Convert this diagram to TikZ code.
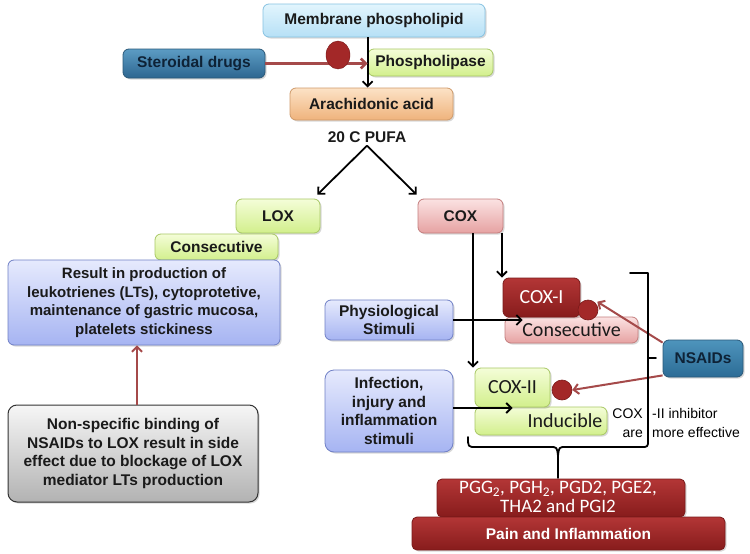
\documentclass[tikz,border=0pt]{standalone}
\usepackage{fontspec}
\setmainfont{Liberation Sans}
\newfontfamily\calfont{Carlito}
\usetikzlibrary{arrows.meta,shadows,calc,shapes.geometric}
\definecolor{memtop}{HTML}{E2F5FD}\definecolor{membot}{HTML}{B6E0F6}\definecolor{memdraw}{HTML}{86C2E2}
\definecolor{stertop}{HTML}{5C9CC4}\definecolor{sterbot}{HTML}{2D6690}\definecolor{sterdraw}{HTML}{2A5878}
\definecolor{grtop}{HTML}{F4FDD8}\definecolor{grbot}{HTML}{D2EF8C}\definecolor{grdraw}{HTML}{A8C864}
\definecolor{aratop}{HTML}{FCE2C6}\definecolor{arabot}{HTML}{EFB37C}\definecolor{aradraw}{HTML}{CF9A6A}
\definecolor{pktop}{HTML}{FBE2E2}\definecolor{pkbot}{HTML}{E6A2A2}\definecolor{pkdraw}{HTML}{C47E7E}
\definecolor{bltop}{HTML}{E6EAFD}\definecolor{blbot}{HTML}{A6B4F2}\definecolor{bldraw}{HTML}{7080C6}
\definecolor{gytop}{HTML}{F6F6F6}\definecolor{gybot}{HTML}{B2B2B2}\definecolor{gydraw}{HTML}{333333}
\definecolor{drtop}{HTML}{B33636}\definecolor{drbot}{HTML}{871C1C}\definecolor{drdraw}{HTML}{7A1A1A}
\definecolor{nstop}{HTML}{4E94BC}\definecolor{nsbot}{HTML}{2C6C96}
\definecolor{redarr}{HTML}{A54A4A}\definecolor{circf}{HTML}{A32828}
\definecolor{txt}{HTML}{1A1A1A}\definecolor{navy}{HTML}{0E2236}
\newcommand\lblfont{\fontsize{15.5}{18.5}\selectfont\bfseries}
\newcommand\calbig{\calfont\fontsize{20}{22}\selectfont}
\newcommand\calmid{\calfont\fontsize{19}{19}\selectfont}
\tikzset{
  box/.style={draw, rounded corners=6pt, line width=0.8pt, align=center, inner sep=2pt,
    text=txt, font=\lblfont,
    drop shadow={shadow xshift=1.5pt, shadow yshift=-1.5pt, opacity=0.3}},
  green/.style={top color=grtop, bottom color=grbot, draw=grdraw},
  pink/.style={top color=pktop, bottom color=pkbot, draw=pkdraw},
  blue/.style={top color=bltop, bottom color=blbot, draw=bldraw},
  darkred/.style={top color=drtop, bottom color=drbot, draw=drdraw, text=white},
  blk/.style={draw=black, line width=1.8pt, -{Straight Barb[length=5pt,width=10pt]}},
  rarr/.style={draw=redarr, line width=2pt, -{Straight Barb[length=5pt,width=10pt]}},
  dot/.style={circle, minimum size=20pt, inner sep=0pt, fill=circf, draw=drdraw, line width=0.6pt},
  brk/.style={draw=black, line width=1.8pt, line cap=round, line join=round}
}
\begin{document}
\begin{tikzpicture}[x=1pt,y=-1pt]
\useasboundingbox[fill=white] (0,0) rectangle (750,554);
% top chain
\node[box, top color=memtop, bottom color=membot, draw=memdraw, minimum width=222pt, minimum height=33pt] (mem) at (374,20.5) {Membrane phospholipid};
\node[box, top color=stertop, bottom color=sterbot, draw=sterdraw, text=navy, minimum width=142pt, minimum height=29pt] (ster) at (194,63.5) {Steroidal drugs};
\node[box, green, minimum width=125pt, minimum height=27pt] (phos) at (430.5,62.5) {Phospholipase};
\node[box, top color=aratop, bottom color=arabot, draw=aradraw, minimum width=163pt, minimum height=32pt] (ara) at (371.5,104) {Arachidonic acid};
\node[font=\lblfont, text=txt, inner sep=3pt] (pufa) at (367,137) {20 C PUFA};
\draw[blk] (mem.south -| phos.west) -- (ara.north -| phos.west);
\draw[rarr, line width=2.6pt] (ster.east) -- (ster.east -| phos.west);
\node[ellipse, minimum width=24pt, minimum height=28pt, inner sep=0pt, fill=circf, draw=drdraw] (sdot) at (338,55) {};
% LOX branch
\node[box, green, minimum width=84pt, minimum height=34pt] (lox) at (278,216) {LOX};
\node[box, green, minimum width=123pt, minimum height=26pt] (cons) at (216.5,247) {Consecutive};
\node[box, blue, font=\fontsize{15}{18.5}\selectfont\bfseries, minimum width=272pt, minimum height=85pt] (res) at (144,302.5) {Result in production of\\leukotrienes (LTs), cytoprotetive,\\maintenance of gastric mucosa,\\platelets stickiness};
\node[box, top color=gytop, bottom color=gybot, draw=gydraw, line width=1pt, rounded corners=9pt, minimum width=250pt, minimum height=97pt] (nons) at (133,453.5) {Non-specific binding of\\NSAIDs to LOX result in side\\effect due to blockage of LOX\\mediator LTs production};
\draw[rarr] ([xshift=4pt]nons.north) -- ([xshift=4pt]nons.north |- res.south);
% COX branch
\node[box, pink, minimum width=85pt, minimum height=34pt] (cox) at (460.5,216) {COX};
\draw[blk] (pufa.south) -- ($(lox.north east)+(-3,-4)$);
\draw[blk] (pufa.south) -- ($(cox.north west)+(-1,-4)$);
\node[box, blue, minimum width=128pt, minimum height=40pt] (phys) at (389,320) {Physiological\\Stimuli};
\node[box, blue, rounded corners=9pt, minimum width=128pt, minimum height=82pt] (inf) at (389,411) {Infection,\\injury and\\inflammation\\stimuli};
\node[box, pink, font=\calbig, minimum width=133pt, minimum height=26pt] (cons1) at (571.5,330) {Consecutive};
\node[box, darkred, font=\calbig, minimum width=77pt, minimum height=39pt] (cox1) at (541.5,297.5) {COX-I};
\node[box, green, font=\calbig, minimum width=132pt, minimum height=28pt] (ind) at (541,421) {\hspace*{48pt}Inducible};
\node[box, green, font=\calbig, minimum width=75pt, minimum height=39pt] (cox2) at (512.5,387.5) {COX-II};
\draw[blk] ([xshift=12.5pt]cox.south) -- ([xshift=12.5pt]cox.south |- cox2.north);
\draw[blk] ([xshift=-1.5pt]cox.south east) -- ([xshift=-1.5pt]cox.south east |- cox1.north);
\draw[blk] (phys.east) -- ([xshift=18pt]cons1.west |- phys.east);
\draw[blk] ([yshift=3pt]inf.east) -- ([yshift=3pt]inf.east -| cox2.center);
\node[dot] (c1) at (588,310) {};
\node[dot] (c2) at (562,390) {};
\node[box, top color=nstop, bottom color=nsbot, draw=sterdraw, text=navy, minimum width=80pt, minimum height=37pt] (nsaid) at (703,358.5) {NSAIDs};
\draw[rarr] ($(nsaid.north west)+(0,3)$) -- ($(c1.north east)+(2,-1)$);
\draw[rarr] ($(nsaid.south west)+(0,-2)$) -- (c2.east);
% bracket and brace
\draw[brk] (630,273) -- (648,273) -- (648,440) .. controls (648,447) .. (641,447) -- (566,447) .. controls (559,447) .. (558,456) -- (558,478);
\draw[brk] (558,456) .. controls (557,447) .. (550,447) -- (476,447) .. controls (468,447) .. (468,437);
\draw[brk] (648,358) -- (656,358);
\node[anchor=east, align=right, font=\fontsize{14}{19.5}\selectfont, inner sep=0pt] (t1) at (643,423) {COX\\are};
\node[anchor=west, align=left, font=\fontsize{14}{19.5}\selectfont, inner sep=0pt] (t2) at (652,423) {-II inhibitor\\more effective};
% products
\node[box, darkred, rounded corners=5pt, minimum width=248pt, minimum height=38pt] (pgg) at (561,498) {};
\node[box, darkred, rounded corners=5pt, minimum width=313pt, minimum height=33pt] (pain) at (568.5,533.5) {Pain and Inflammation};
\node[font=\calmid, text=white, align=center, inner sep=0pt] (pggt) at (558,497) {PGG\textsubscript{2}, PGH\textsubscript{2}, PGD2, PGE2,\\THA2 and PGI2};
\end{tikzpicture}
\end{document}
